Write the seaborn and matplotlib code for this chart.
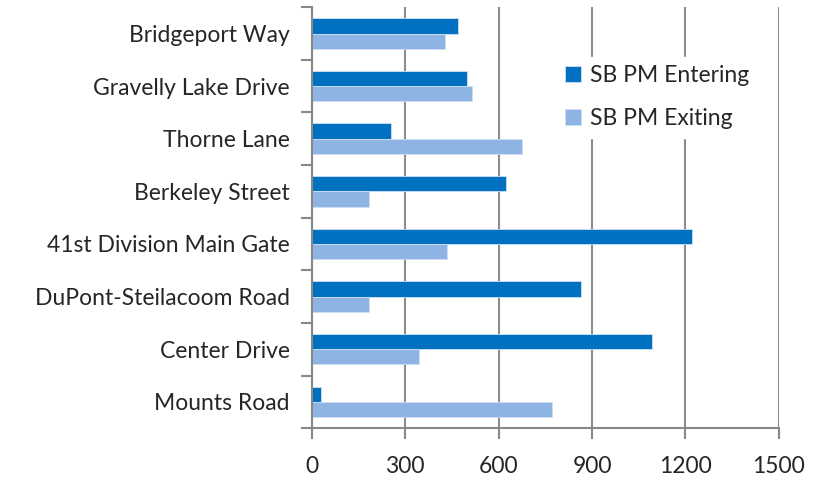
import pandas as pd
import matplotlib.pyplot as plt
import seaborn as sns
from matplotlib.ticker import FixedLocator

# Data
locations = [
    "Bridgeport Way",
    "Gravelly Lake Drive",
    "Thorne Lane",
    "Berkeley Street",
    "41st Division Main Gate",
    "DuPont-Steilacoom Road",
    "Center Drive",
    "Mounts Road",
]
entering = [469, 499, 254, 624, 1220, 864, 1094, 29]
exiting = [428, 514, 674, 184, 434, 184, 344, 770]
series_names = ["SB PM Entering", "SB PM Exiting"]
x_ticks = [0, 300, 600, 900, 1200, 1500]


def main():
    df = pd.DataFrame({
        "location": locations * 2,
        "value": entering + exiting,
        "series": [series_names[0]] * len(locations) + [series_names[1]] * len(locations),
    })

    sns.set_style("white")
    plt.rcParams['font.family'] = ['Lato', 'DejaVu Sans']

    fig = plt.figure(figsize=(8.25, 4.8), dpi=100)
    ax = fig.add_axes([0.378, 0.108, 0.566, 0.877])

    sns.barplot(
        data=df, y="location", x="value", hue="series", orient="h",
        palette=["#0070C0", "#8EB4E3"], saturation=1, width=0.58, gap=0,
        edgecolor="#cfe0f3", linewidth=0.6, ax=ax, zorder=3,
    )

    # axes styling (Excel-like)
    ax.set_xlim(0, 1500)
    ax.set_xticks(x_ticks)
    ax.set_xticklabels([str(t) for t in x_ticks], fontsize=16.5)
    ax.set_xlabel("")
    ax.set_ylabel("")
    ax.tick_params(axis="y", which="major", left=False, length=0, labelsize=16.5, pad=16)
    ax.yaxis.set_minor_locator(FixedLocator([k + 0.5 for k in range(-1, len(locations))]))
    ax.tick_params(axis="y", which="minor", left=True, length=8, width=1.5,
                   color="#888888", direction="out")
    ax.tick_params(axis="x", which="major", bottom=True, length=8, width=1.5,
                   color="#888888", direction="out", pad=12)

    ax.grid(axis="x", color="#8c8c8c", linewidth=1.5, zorder=0)
    ax.grid(axis="y", visible=False)
    for side in ["top", "right"]:
        ax.spines[side].set_visible(False)
    for side in ["left", "bottom"]:
        ax.spines[side].set_color("#888888")
        ax.spines[side].set_linewidth(1.5)
        ax.spines[side].set_zorder(4)

    leg = ax.legend(
        loc="upper left", bbox_to_anchor=(0.50, 0.91), frameon=True,
        fontsize=16.5, handlelength=0.7, handleheight=0.7, handletextpad=0.4,
        labelspacing=1.0, borderpad=0.35, fancybox=False,
    )
    leg.get_frame().set_edgecolor("white")
    leg.get_frame().set_facecolor("white")
    leg.get_frame().set_alpha(1)
    leg.set_zorder(5)

    plt.savefig("out.png", dpi=100)
    plt.close()


if __name__ == "__main__":
    main()
